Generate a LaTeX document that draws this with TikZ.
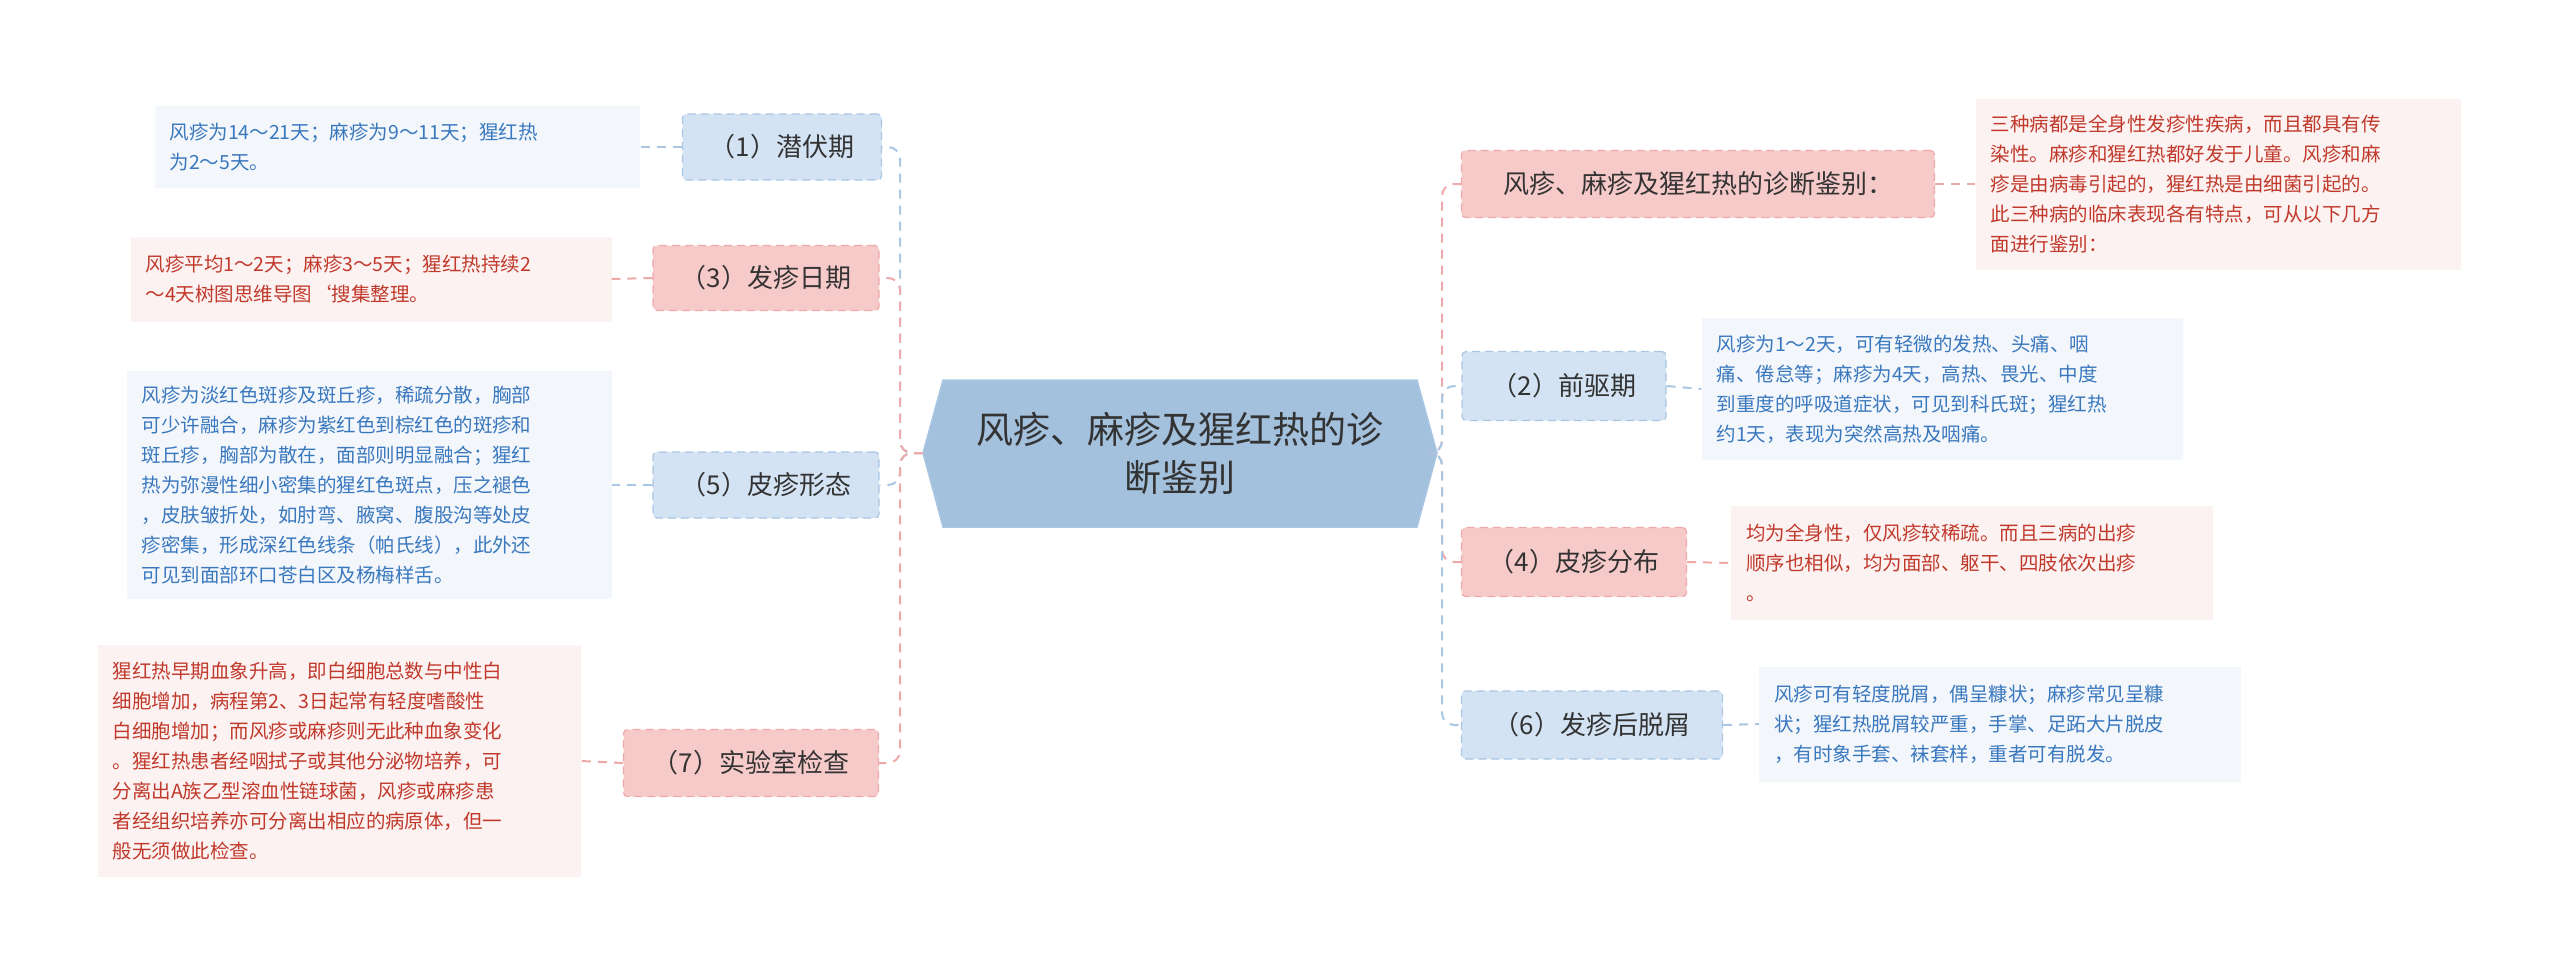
\documentclass[tikz,border=0pt]{standalone}
\usepackage{fontspec}
\setmainfont{Noto Sans CJK SC}
\definecolor{bfill}{HTML}{D3E3F3}
\definecolor{bline}{HTML}{A9C6E3}
\definecolor{pfill}{HTML}{F7CACA}
\definecolor{pline}{HTML}{EFA9A9}
\definecolor{nbfill}{HTML}{F3F7FC}
\definecolor{npfill}{HTML}{FDF2F2}
\definecolor{btext}{HTML}{3A78BE}
\definecolor{ptext}{HTML}{C0392B}
\definecolor{cfill}{HTML}{A3C0DD}
\begin{document}
\begin{tikzpicture}[x=1pt,y=-1pt,
 br/.style={draw=#1line,dash pattern=on 8pt off 5pt,line width=1.2pt,rounded corners=4pt,fill=#1fill,inner sep=0pt,font=\fontsize{26}{30}\selectfont,text=black!80},
 nt/.style={fill=n#1fill,inner sep=0pt,align=left,font=\fontsize{19.5}{30}\selectfont},
 cb/.style={draw=bline,dash pattern=on 9pt off 7pt,line width=2pt,rounded corners=12pt},
 cp/.style={draw=pline,dash pattern=on 9pt off 7pt,line width=2pt,rounded corners=12pt}]
\path[use as bounding box,fill=white] (0,0) rectangle (2560,977);
% center
\filldraw[fill=cfill,draw=bline,line width=1.5pt] (923,453)--(943,380)--(1417,380)--(1437,453)--(1417,527)--(943,527)--cycle;
\node[align=center,font=\fontsize{37}{48}\selectfont,text=black!80] (c) at (1180,453) {风疹、麻疹及猩红热的诊\\断鉴别};
\coordinate (cw) at (923,453);
\coordinate (ce) at (1437,453);
\coordinate (lt) at (900,453);
\coordinate (rt) at (1442,453);
% left branches
\node[br=b,minimum width=199pt,minimum height=66pt] (b1) at (782,147) {（1）潜伏期};
\node[br=p,minimum width=226pt,minimum height=65pt] (b3) at (766,278) {（3）发疹日期};
\node[br=b,minimum width=226pt,minimum height=66pt] (b5) at (766,485) {（5）皮疹形态};
\node[br=p,minimum width=255pt,minimum height=67pt] (b7) at (751,763) {（7）实验室检查};
\node[nt=b,text=btext,minimum width=485pt,minimum height=82pt,text width=455pt] (n1) at (397,147) {风疹为14～21天；麻疹为9～11天；猩红热\\为2～5天。};
\node[nt=p,text=ptext,minimum width=481pt,minimum height=85pt,text width=451pt] (n3) at (371,279) {风疹平均1～2天；麻疹3～5天；猩红热持续2\\～4天树图思维导图`搜集整理。};
\node[nt=b,text=btext,minimum width=485pt,minimum height=228pt,text width=455pt] (n5) at (369,485) {风疹为淡红色斑疹及斑丘疹，稀疏分散，胸部\\可少许融合，麻疹为紫红色到棕红色的斑疹和\\斑丘疹，胸部为散在，面部则明显融合；猩红\\热为弥漫性细小密集的猩红色斑点，压之褪色\\，皮肤皱折处，如肘弯、腋窝、腹股沟等处皮\\疹密集，形成深红色线条（帕氏线），此外还\\可见到面部环口苍白区及杨梅样舌。};
\node[nt=p,text=ptext,minimum width=483pt,minimum height=232pt,text width=453pt] (n7) at (339,761) {猩红热早期血象升高，即白细胞总数与中性白\\细胞增加，病程第2、3日起常有轻度嗜酸性\\白细胞增加；而风疹或麻疹则无此种血象变化\\。猩红热患者经咽拭子或其他分泌物培养，可\\分离出A族乙型溶血性链球菌，风疹或麻疹患\\者经组织培养亦可分离出相应的病原体，但一\\般无须做此检查。};
% right branches
\node[br=p,minimum width=473pt,minimum height=67pt] (r0) at (1698,184) {风疹、麻疹及猩红热的诊断鉴别：};
\node[br=b,minimum width=204pt,minimum height=69pt] (r2) at (1564,386) {（2）前驱期};
\node[br=p,minimum width=225pt,minimum height=69pt] (r4) at (1574,562) {（4）皮疹分布};
\node[br=b,minimum width=261pt,minimum height=68pt] (r6) at (1592,725) {（6）发疹后脱屑};
\node[nt=p,text=ptext,minimum width=485pt,minimum height=171pt,text width=455pt] (m0) at (2218,184) {三种病都是全身性发疹性疾病，而且都具有传\\染性。麻疹和猩红热都好发于儿童。风疹和麻\\疹是由病毒引起的，猩红热是由细菌引起的。\\此三种病的临床表现各有特点，可从以下几方\\面进行鉴别：};
\node[nt=b,text=btext,minimum width=481pt,minimum height=142pt,text width=451pt] (m2) at (1942,389) {风疹为1～2天，可有轻微的发热、头痛、咽\\痛、倦怠等；麻疹为4天，高热、畏光、中度\\到重度的呼吸道症状，可见到科氏斑；猩红热\\约1天，表现为突然高热及咽痛。};
\node[nt=p,text=ptext,minimum width=482pt,minimum height=114pt,text width=452pt] (m4) at (1972,563) {均为全身性，仅风疹较稀疏。而且三病的出疹\\顺序也相似，均为面部、躯干、四肢依次出疹\\。};
\node[nt=b,text=btext,minimum width=482pt,minimum height=115pt,text width=452pt] (m6) at (2000,724) {风疹可有轻度脱屑，偶呈糠状；麻疹常见呈糠\\状；猩红热脱屑较严重，手掌、足跖大片脱皮\\，有时象手套、袜套样，重者可有脱发。};
% connectors
\draw[cb] (cw) -- (lt) |- (b1.east);
\draw[cp] (cw) -- (lt) |- (b3.east);
\draw[cb] (cw) -- (lt) |- (b5.east);
\draw[cp] (cw) -- (lt) |- (b7.east);
\draw[cp] (ce) -- (rt) |- (r0.west);
\draw[cb] (ce) -- (rt) |- (r2.west);
\draw[cp] (ce) -- (rt) |- (r4.west);
\draw[cb] (ce) -- (rt) |- (r6.west);
\draw[cb] (b1.west) -- (n1.east);
\draw[cp] (b3.west) -- (n3.east);
\draw[cb] (b5.west) -- (n5.east);
\draw[cp] (b7.west) -- (n7.east);
\draw[cp] (r0.east) -- (m0.west);
\draw[cb] (r2.east) -- (m2.west);
\draw[cp] (r4.east) -- (m4.west);
\draw[cb] (r6.east) -- (m6.west);
\end{tikzpicture}
\end{document}
